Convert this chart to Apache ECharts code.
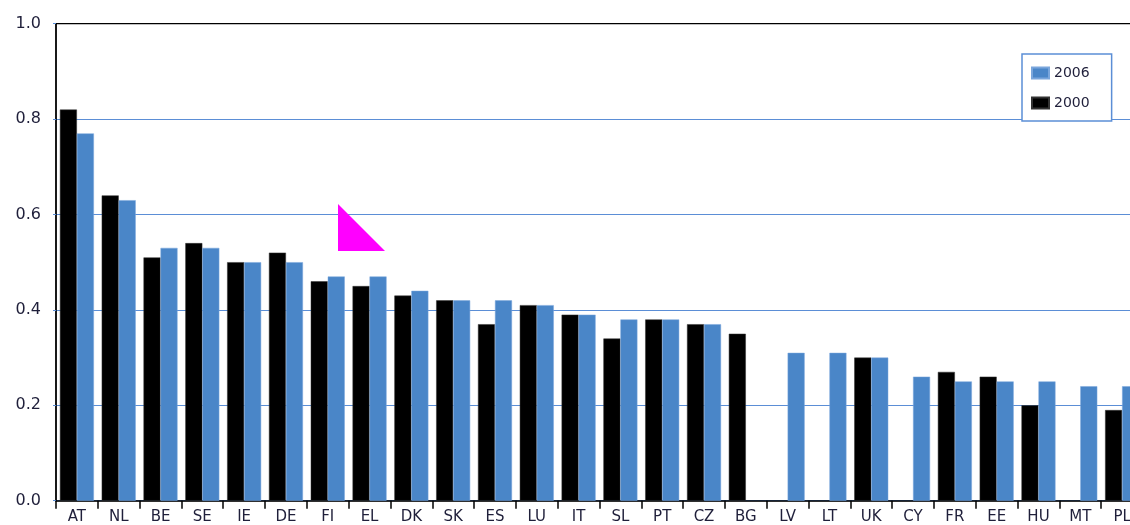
<!DOCTYPE html>
<html>
<head>
<meta charset="utf-8">
<script src="https://cdn.jsdelivr.net/npm/echarts@6/dist/echarts.min.js"></script>
<style>
  html, body { margin: 0; padding: 0; background: #fff; }
  #chart { width: 1130px; height: 525px; }
</style>
</head>
<body>
<div id="chart"></div>
<script>
// countries along the x axis
const countries = ['AT', 'NL', 'BE', 'SE', 'IE', 'DE', 'FI', 'EL', 'DK', 'SK', 'ES', 'LU', 'IT',
                   'SL', 'PT', 'CZ', 'BG', 'LV', 'LT', 'UK', 'CY', 'FR', 'EE', 'HU', 'MT', 'PL'];

// 2000 values (null = no bar)
const values2000 = [0.82, 0.64, 0.51, 0.54, 0.50, 0.52, 0.46, 0.45, 0.43, 0.42, 0.37, 0.41, 0.39,
                    0.34, 0.38, 0.37, 0.35, null, null, 0.30, null, 0.27, 0.26, 0.20, null, 0.19];

// 2006 values
const values2006 = [0.77, 0.63, 0.53, 0.53, 0.50, 0.50, 0.47, 0.47, 0.44, 0.42, 0.42, 0.41, 0.39,
                    0.38, 0.38, 0.37, null, 0.31, 0.31, 0.30, 0.26, 0.25, 0.25, 0.25, 0.24, 0.24];

const gridBlue = '#5b8ed6';
const barBlue = '#4a86c8';
const textColor = '#1f1f3a';

let chart = echarts.init(document.getElementById('chart'));

let option = {
    animation: false,
    grid: {
        left: 56,
        width: 1087,   // runs past the right edge, the last category is cut like in the source
        top: 23.7,
        bottom: 24.3,
        outerBoundsMode: 'none',
        show: true,
        borderColor: '#000',
        borderWidth: 1.2
    },
    legend: {
        orient: 'vertical',
        left: 1022,
        top: 54,
        data: ['2006', '2000'],
        itemWidth: 17,
        itemHeight: 11,
        itemGap: 16,
        padding: [12, 22, 11, 9],
        borderColor: gridBlue,
        borderWidth: 1.5,
        backgroundColor: '#fff',
        icon: 'rect',
        textStyle: { fontFamily: 'DejaVu Sans', fontSize: 14, color: textColor }
    },
    xAxis: {
        type: 'category',
        data: countries,
        axisLine: { lineStyle: { color: '#000', width: 1.5 } },
        axisTick: { show: true, length: 8, lineStyle: { color: '#000', width: 1.5 } },
        axisLabel: { margin: 9, fontFamily: 'DejaVu Sans', fontSize: 15, color: textColor, interval: 0 }
    },
    yAxis: {
        type: 'value',
        min: 0,
        max: 1.0,
        interval: 0.2,
        axisLine: { show: true, lineStyle: { color: '#000', width: 1.5 } },
        axisTick: { show: true, length: 3, lineStyle: { color: gridBlue } },
        axisLabel: {
            margin: 15,
            fontFamily: 'DejaVu Sans',
            fontSize: 16,
            color: textColor,
            formatter: (v) => v.toFixed(1)
        },
        splitLine: { showMaxLine: false, lineStyle: { color: gridBlue, width: 1.2 } }
    },
    series: [
        {
            name: '2000',
            type: 'bar',
            data: values2000,
            barWidth: 17,
            barGap: '0%',
            itemStyle: { color: '#000', borderColor: '#333', borderWidth: 0.5 }
        },
        {
            name: '2006',
            type: 'bar',
            data: values2006,
            barWidth: 17,
            itemStyle: { color: barBlue, borderColor: '#7aa6dc', borderWidth: 0.5 }
        }
    ],
    graphic: [
        {
            // magenta marker drawn over the plot in the source image
            type: 'polygon',
            shape: { points: [[338, 204], [338, 251], [385, 251]] },
            style: { fill: '#ff00ff' },
            z: 100
        }
    ]
};

chart.setOption(option);
</script>
</body>
</html>
